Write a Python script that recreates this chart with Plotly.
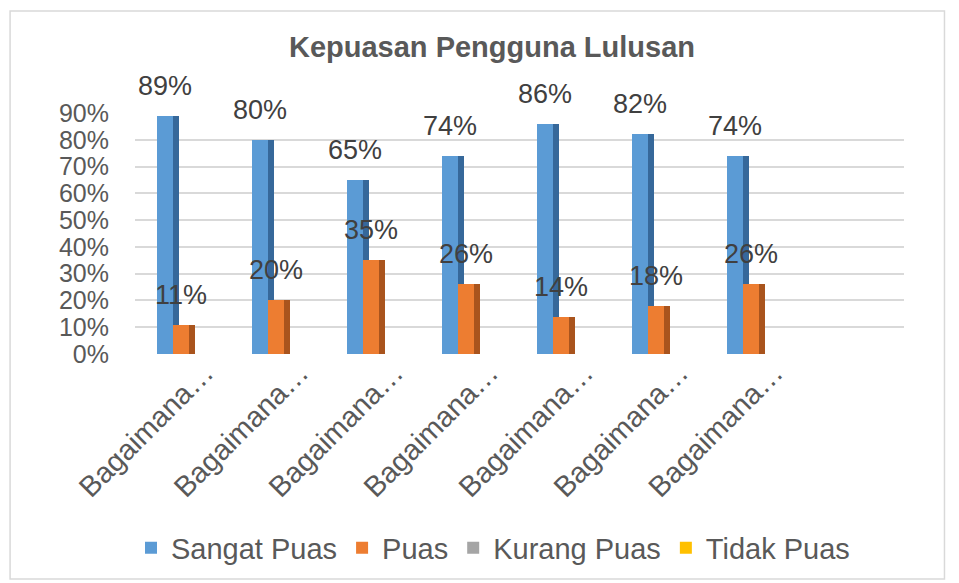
import plotly.graph_objects as go

title = "Kepuasan Pengguna Lulusan"
categories = ["Bagaimana…"] * 7
series_names = ["Sangat Puas", "Puas", "Kurang Puas", "Tidak Puas"]
sangat_puas = [0.89, 0.80, 0.65, 0.74, 0.86, 0.82, 0.74]
puas = [0.11, 0.20, 0.35, 0.26, 0.14, 0.18, 0.26]
kurang_puas = [0, 0, 0, 0, 0, 0, 0]
tidak_puas = [0, 0, 0, 0, 0, 0, 0]
y_ticks = [0, 0.1, 0.2, 0.3, 0.4, 0.5, 0.6, 0.7, 0.8, 0.9]

front_cols = ["#5B9BD5", "#ED7D31", "#A5A5A5", "#FFC000"]
side_cols = ["#36689A", "#A9541D", "#777777", "#B88A00"]

OFF = 8                      # page body margin of the browser
SW, SH = 959, 583            # screen size
W, H = SW - OFF, SH - OFF
# plot area in screen pixels
PL, PR, PT, PB = 135, 904.5, 113, 354
L = PL - OFF
R = W - (PR - OFF)
T = PT - OFF
B = H - (PB - OFF)
xr = [-0.4, 7.7]
yr = [0, 0.9]
bw = 0.168     # front face width (category units)
dw = 0.063     # side face depth

FONT = "Liberation Sans, Arial, sans-serif"
x = list(range(len(categories)))
fig = go.Figure()

series = [sangat_puas, puas, kurang_puas, tidak_puas]
offsets = [-bw, 0, bw, 2 * bw]
for k in range(2):
    fig.add_trace(go.Bar(x=x, y=series[k], offset=offsets[k] + bw, width=dw,
                         marker=dict(color=side_cols[k], line=dict(width=0)),
                         showlegend=False, hoverinfo="skip"))
    fig.add_trace(go.Bar(x=x, y=series[k], offset=offsets[k], width=bw,
                         name=series_names[k],
                         marker=dict(color=front_cols[k], line=dict(width=0))))
for k in range(2, 4):
    fig.add_trace(go.Bar(x=x, y=series[k], offset=offsets[k], width=bw,
                         name=series_names[k],
                         marker=dict(color=front_cols[k], line=dict(width=0))))

ann = []
for k in range(2):
    for xi, v in zip(x, series[k]):
        ann.append(dict(x=xi + offsets[k] + bw / 2, y=v, xref="x", yref="y",
                        text=f"{round(v*100)}%", showarrow=False,
                        yanchor="middle", yshift=30,
                        font=dict(family=FONT, size=27, color="#404040")))

pw = W - L - R
ph = H - T - B
def px2paper_x(p):
    return (p - OFF - L) / pw
def px2paper_y(p):
    return (H - B - (p - OFF)) / ph

shapes = [dict(type="rect", xref="paper", yref="paper",
               x0=px2paper_x(10), x1=px2paper_x(945),
               y0=px2paper_y(579), y1=px2paper_y(11),
               line=dict(color="#D9D9D9", width=1.5), fillcolor="rgba(0,0,0,0)", layer="below")]

fig.update_layout(
    width=W, height=H,
    margin=dict(l=L, r=R, t=T, b=B, autoexpand=False),
    paper_bgcolor="white", plot_bgcolor="white",
    barmode="overlay",
    title=dict(text=f"<b>{title}</b>", x=(492 - OFF) / W, xanchor="center",
               y=1 - (47 - OFF) / H, yanchor="middle",
               font=dict(family=FONT, size=29, color="#595959")),
    xaxis=dict(range=xr, tickmode="array", tickvals=x, ticktext=categories,
               tickangle=-45, showgrid=False, zeroline=False, showline=False,
               ticks="", ticklabelshift=32, ticklabelstandoff=-5,
               tickfont=dict(family=FONT, size=29, color="#595959")),
    yaxis=dict(range=yr, tickmode="array", tickvals=y_ticks,
               ticktext=[f"{round(t*100)}%" for t in y_ticks],
               showgrid=True, gridcolor="#D9D9D9", gridwidth=2,
               zeroline=False, showline=False, ticks="", ticklabelstandoff=25,
               tickfont=dict(family=FONT, size=25, color="#595959")),
    legend=dict(orientation="h", xref="container", yref="container",
                x=(493 - OFF) / W, xanchor="center", y=1 - (548 - OFF) / H, yanchor="middle",
                font=dict(family=FONT, size=29, color="#595959"),
                itemwidth=30, tracegroupgap=0),
    annotations=ann,
    shapes=shapes,
    bargap=0,
)
fig.update_traces(cliponaxis=False)
fig.write_html("out.html")
